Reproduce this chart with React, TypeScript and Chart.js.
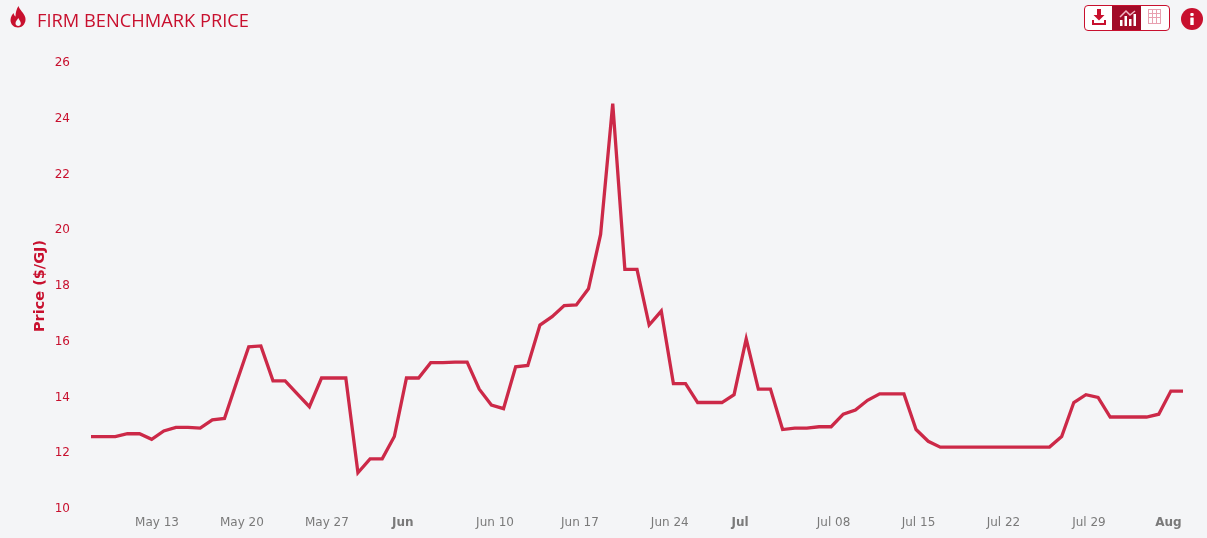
import React, { useEffect, useRef } from "react";
import { Chart, registerables } from "chart.js";

Chart.register(...registerables);

const prices = [
  12.6, 12.6, 12.6, 12.7, 12.7, 12.5, 12.8, 12.93, 12.93, 12.9,
  13.2, 13.25, 14.55, 15.82, 15.85, 14.6, 14.6, 14.13, 13.67, 14.7,
  14.7, 14.7, 11.3, 11.8, 11.8, 12.6, 14.7, 14.7, 15.25, 15.25,
  15.27, 15.27, 14.3, 13.73, 13.6, 15.1, 15.15, 16.6, 16.9, 17.3,
  17.32, 17.9, 19.85, 24.54, 18.6, 18.6, 16.6, 17.1, 14.5, 14.5,
  13.82, 13.82, 13.82, 14.1, 16.1, 14.3, 14.3, 12.85, 12.9, 12.9,
  12.95, 12.95, 13.4, 13.55, 13.9, 14.13, 14.13, 14.13, 12.85, 12.43,
  12.22, 12.22, 12.22, 12.22, 12.22, 12.22, 12.22, 12.22, 12.22, 12.22,
  12.6, 13.82, 14.1, 14.0, 13.3, 13.3, 13.3, 13.3, 13.4, 14.23, 14.23,
];
const tickLabels = ["May 13", "May 20", "May 27", "Jun", "Jun 10", "Jun 17", "Jun 24", "Jul", "Jul 08", "Jul 15", "Jul 22", "Jul 29", "Aug"];
const tickIndexes = [5.44, 12.44, 19.44, 25.7, 33.3, 40.3, 47.7, 53.5, 61.2, 68.2, 75.2, 82.25, 88.8];
const boldLabels = ["Jun", "Jul", "Aug"];
const yMin = 10;
const yMax = 26;
const yStep = 2;

const RED = "#c8102e";
const LINE = "#cc2948";
const FONT = "'DejaVu Sans', sans-serif";

export default function App() {
  const ref = useRef<HTMLCanvasElement>(null);
  useEffect(() => {
    const chart = new Chart(ref.current!, {
      type: "line",
      data: {
        labels: prices.map((_, i) => i),
        datasets: [{
          data: prices.map((y, x) => ({ x, y })),
          borderColor: LINE,
          borderWidth: 3.3,
          pointRadius: 0,
          tension: 0,
          fill: false,
        }],
      },
      options: {
        animation: false,
        responsive: false,
        layout: { padding: { top: 63, right: 24, left: 0, bottom: 0 } },
        plugins: { legend: { display: false }, tooltip: { enabled: false } },
        scales: {
          x: {
            type: "linear",
            min: 0,
            max: prices.length - 1,
            border: { display: false },
            grid: { display: false },
            afterBuildTicks: (axis: any) => {
              axis.ticks = tickIndexes.map((value) => ({ value }));
            },
            afterFit: (axis: any) => { axis.height = 29; },
            ticks: {
              autoSkip: false,
              maxRotation: 0,
              minRotation: 0,
              padding: -1,
              color: "#7a7a7a",
              callback: (v: any) => tickLabels[tickIndexes.indexOf(Number(v))],
              font: (ctx: any) => {
                const label = tickLabels[tickIndexes.indexOf(ctx.tick?.value)];
                return { family: FONT, size: 12, weight: boldLabels.includes(label) ? "bold" : "normal" };
              },
            },
          },
          y: {
            min: yMin,
            max: yMax,
            border: { display: false },
            grid: { display: false },
            afterFit: (axis: any) => { axis.width = 91; },
            ticks: {
              stepSize: yStep,
              padding: 13,
              color: RED,
              font: { family: FONT, size: 12 },
            },
            title: {
              display: true,
              text: "Price ($/GJ)",
              color: RED,
              font: { family: FONT, size: 14.5, weight: "bold" },
              padding: { top: 32, bottom: 0 },
            },
          },
        },
      },
    });
    return () => chart.destroy();
  }, []);

  return (
    <div style={{ position: "fixed", left: 0, top: 0, width: 1207, height: 538, background: "#f4f5f7", overflow: "hidden" }}>
      <canvas ref={ref} width={1207} height={538} style={{ position: "absolute", left: 0, top: 0, display: "block" }} />
      <svg width="18" height="24" viewBox="0 0 18 24" style={{ position: "absolute", left: 9, top: 5 }}>
        <path fill={RED} fillRule="evenodd" d="M9.5 1 C10.5 5 15 7.5 16.3 12.5 C17.5 17.5 14 22.5 9 22.5 C4.5 22.5 1.5 19 1.5 15 C1.5 11.5 3.5 9.5 4.5 8 C5 10 5.5 11 6.5 11.5 C6.5 7.5 7.5 4 9.5 1 Z M9.3 13 C8.5 15 6.5 16 6.5 18.2 C6.5 20 7.8 21 9.2 21 C10.7 21 12 19.8 11.8 18 C11.6 16 10 15 9.3 13 Z" />
      </svg>
      <div style={{ position: "absolute", left: 37, top: 9, fontFamily: "'Open Sans', sans-serif", fontWeight: 400, fontSize: 18.3, lineHeight: "22px", color: RED, whiteSpace: "nowrap" }}>
        FIRM BENCHMARK PRICE
      </div>
      <div style={{ position: "absolute", left: 1084, top: 5, width: 86, height: 26, boxSizing: "border-box", border: `1px solid ${RED}`, borderRadius: 4, background: "#fff", overflow: "hidden" }}>
        <div style={{ position: "absolute", left: 27, top: 0, width: 29, height: 24, background: "#a20b28" }} />
        <svg width="84" height="24" viewBox="0 0 84 24" style={{ position: "absolute", left: 0, top: 0 }}>
          <path fill={RED} d="M12 3h4v6h3.5l-5.5 5.5L8.5 9H12z" />
          <path fill={RED} d="M7 14h2v3h10v-3h2v5H7z" />
          <g fill="#fff">
            <rect x="35" y="14" width="2.5" height="6" />
            <rect x="39.5" y="10" width="2.5" height="10" />
            <rect x="44" y="13" width="2.5" height="7" />
            <rect x="48.5" y="8" width="2.5" height="12" />
          </g>
          <path d="M35 11 L41 5 L45 9 L50 5" fill="none" stroke="#f0b8c4" strokeWidth="1.5" />
          <g stroke="#e8a0b0" strokeWidth="1" fill="none">
            <rect x="63.5" y="3.5" width="12" height="14" />
            <path d="M63.5 7.5h12M63.5 11.5h12M67.5 3.5v14M71.5 3.5v14" />
          </g>
        </svg>
      </div>
      <svg width="22" height="22" viewBox="0 0 22 22" style={{ position: "absolute", left: 1181, top: 8 }}>
        <circle cx="11" cy="11" r="11" fill={RED} />
        <rect x="9.3" y="5" width="3.4" height="3" rx="1" fill="#fff" />
        <rect x="9.3" y="9.5" width="3.4" height="7.5" rx="0.5" fill="#fff" />
      </svg>
    </div>
  );
}
